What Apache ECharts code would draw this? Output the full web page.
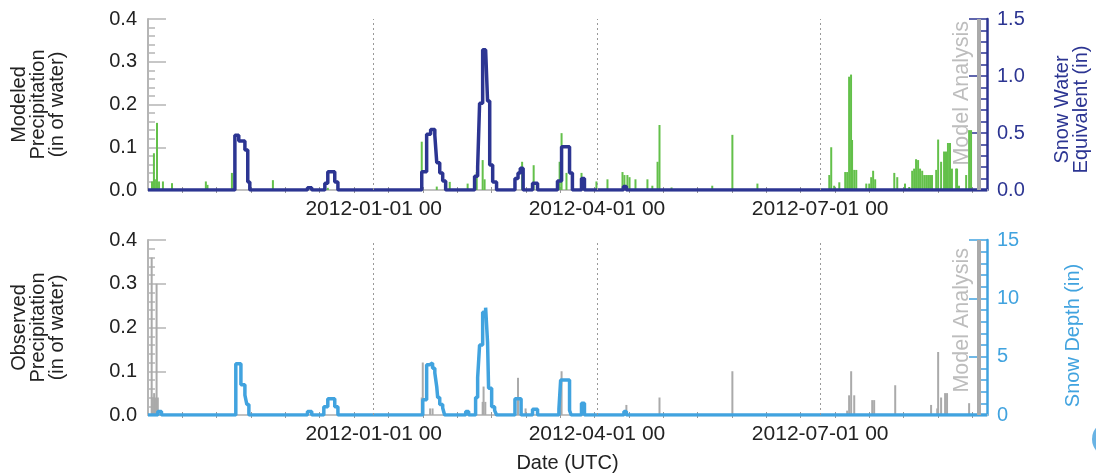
<!DOCTYPE html>
<html><head><meta charset="utf-8">
<script src="https://cdn.jsdelivr.net/npm/echarts@6/dist/echarts.min.js"></script>
<style>html,body{margin:0;padding:0;background:#fff}#c{width:1096px;height:476px}</style>
</head><body><div id="c"></div>
<script>
const xStart = '2011-10-01 00:00';
const xEnd = '2012-09-07 00:00';
const gridDates = ['2012-01-01 00:00', '2012-04-01 00:00', '2012-07-01 00:00'];
const minorTickDates = ['2011-10-15','2011-10-29','2011-11-12','2011-11-26','2011-12-10','2011-12-24',
  '2012-01-07','2012-01-21','2012-02-04','2012-02-18','2012-03-03','2012-03-17','2012-03-31',
  '2012-04-14','2012-04-28','2012-05-12','2012-05-26','2012-06-09','2012-06-23','2012-07-07',
  '2012-07-21','2012-08-04','2012-08-18','2012-09-01'];
const analysisDate = '2012-09-03 18:00';

// Modeled precipitation (in of water) - green bars
const modeledPrecip = [
  ['2011-10-02 15:00',0.02],['2011-10-03 10:00',0.086],['2011-10-03 20:00',0.025],['2011-10-04 16:00',0.157],
  ['2011-10-05 12:00',0.02],['2011-10-07 02:00',0.02],['2011-10-10 19:00',0.016],['2011-10-24 14:00',0.02],
  ['2011-10-25 06:00',0.012],['2011-11-04 05:00',0.04],['2011-11-20 22:00',0.023],['2011-12-13 07:00',0.005],
  ['2012-01-20 14:00',0.113],['2012-01-26 17:00',0.008],['2012-02-01 00:00',0.019],['2012-02-08 07:00',0.015],
  ['2012-02-12 00:00',0.042],['2012-02-14 10:00',0.07],['2012-02-15 05:00',0.025],['2012-03-01 12:00',0.066],
  ['2012-03-06 05:00',0.058],['2012-03-16 19:00',0.066],['2012-03-17 14:00',0.133],['2012-03-19 14:00',0.04],
  ['2012-03-25 17:00',0.04],['2012-03-31 19:00',0.02],['2012-04-05 07:00',0.025],['2012-04-11 10:00',0.042],
  ['2012-04-12 05:00',0.035],['2012-04-13 10:00',0.035],['2012-04-14 07:00',0.03],['2012-04-16 17:00',0.025],
  ['2012-04-21 14:00',0.025],['2012-04-23 14:00',0.01],['2012-04-25 17:00',0.066],['2012-04-26 12:00',0.152],
  ['2012-05-01 10:00',0.006],['2012-05-18 00:00',0.01],['2012-05-26 05:00',0.129],['2012-06-05 10:00',0.015],
  ['2012-07-04 17:00',0.035],['2012-07-05 12:00',0.1],['2012-07-06 17:00',0.01],['2012-07-08 19:00',0.018],
  ['2012-07-11 05:00',0.042],['2012-07-12 00:00',0.042],['2012-07-12 19:00',0.265],['2012-07-13 14:00',0.27],
  ['2012-07-14 00:00',0.117],['2012-07-14 21:00',0.047],['2012-07-15 17:00',0.047],['2012-07-19 19:00',0.015],
  ['2012-07-21 00:00',0.015],['2012-07-21 19:00',0.03],['2012-07-22 14:00',0.045],['2012-07-23 10:00',0.025],
  ['2012-07-31 05:00',0.04],['2012-08-01 10:00',0.03],['2012-08-04 14:00',0.015],['2012-08-06 07:00',0.007],
  ['2012-08-07 12:00',0.045],['2012-08-08 07:00',0.05],['2012-08-09 02:00',0.072],['2012-08-09 22:00',0.07],
  ['2012-08-10 17:00',0.05],['2012-08-11 14:00',0.045],['2012-08-12 10:00',0.035],['2012-08-13 05:00',0.035],
  ['2012-08-14 00:00',0.035],['2012-08-14 19:00',0.035],['2012-08-15 14:00',0.035],['2012-08-17 07:00',0.047],
  ['2012-08-18 02:00',0.118],['2012-08-19 07:00',0.066],['2012-08-20 12:00',0.09],['2012-08-21 07:00',0.09],
  ['2012-08-22 02:00',0.11],['2012-08-22 22:00',0.11],['2012-08-23 17:00',0.05],['2012-08-25 10:00',0.05],
  ['2012-08-25 19:00',0.05],['2012-08-26 14:00',0.01],['2012-08-29 12:00',0.035],['2012-08-30 17:00',0.14],
  ['2012-08-31 12:00',0.14]
];

// Snow water equivalent (in) - value holds until next point
const sweSteps = [
  ['2011-10-01 00:00',0],['2011-11-05 10:00',0.48],['2011-11-07 00:00',0.43],['2011-11-09 12:00',0.35],
  ['2011-11-10 16:00',0.07],['2011-11-11 12:00',0],['2011-12-05 00:00',0.02],['2011-12-06 18:00',0],
  ['2011-12-12 02:00',0.06],['2011-12-13 07:00',0.16],['2011-12-16 03:00',0.07],['2011-12-17 10:00',0],
  ['2012-01-20 14:00',0.16],['2012-01-22 14:00',0.49],['2012-01-24 05:00',0.53],['2012-01-25 22:00',0.48],
  ['2012-01-26 17:00',0.24],['2012-01-27 22:00',0.15],['2012-01-29 03:00',0.08],['2012-01-30 08:00',0],
  ['2012-02-11 03:00',0.12],['2012-02-12 09:00',0.2],['2012-02-13 04:00',0.76],['2012-02-14 10:00',1.23],
  ['2012-02-15 15:00',1.24],['2012-02-16 10:00',0.78],['2012-02-17 07:00',0.22],['2012-02-18 12:00',0.07],
  ['2012-02-20 02:00',0],['2012-02-27 14:00',0.1],['2012-02-28 20:00',0.15],['2012-02-29 18:00',0.19],
  ['2012-03-01 22:00',0],['2012-03-05 18:00',0.06],['2012-03-07 19:00',0],['2012-03-15 22:00',0.08],
  ['2012-03-17 14:00',0.38],['2012-03-20 20:00',0.15],['2012-03-22 00:00',0],['2012-03-25 17:00',0.1],
  ['2012-03-26 22:00',0],['2012-04-11 19:00',0.03],['2012-04-13 00:00',0],['2012-09-07 00:00',0]
];

// Observed precipitation (in of water) - gray bars
const observedPrecip = [
  ['2011-10-02 12:00',0.36],['2011-10-03 00:00',0.04],['2011-10-03 12:00',0.05],['2011-10-04 00:00',0.04],
  ['2011-10-04 12:00',0.30],['2011-10-05 00:00',0.04],['2012-01-20 14:00',0.04],['2012-01-21 00:00',0.12],
  ['2012-01-24 00:00',0.015],['2012-01-25 00:00',0.015],['2012-02-14 10:00',0.03],['2012-02-14 19:00',0.065],
  ['2012-02-15 12:00',0.03],['2012-02-28 20:00',0.085],['2012-03-02 22:00',0.015],['2012-03-17 00:00',0.03],
  ['2012-03-17 14:00',0.1],['2012-04-13 00:00',0.023],['2012-04-26 12:00',0.04],['2012-05-26 05:00',0.1],
  ['2012-07-12 00:00',0.01],['2012-07-12 19:00',0.045],['2012-07-13 15:00',0.1],['2012-07-14 21:00',0.045],
  ['2012-07-22 05:00',0.034],['2012-07-23 00:00',0.034],['2012-07-31 14:00',0.068],['2012-08-15 05:00',0.023],
  ['2012-08-17 17:00',0.015],['2012-08-18 02:00',0.144],['2012-08-19 07:00',0.04],['2012-08-20 22:00',0.05],
  ['2012-08-21 17:00',0.05],['2012-08-30 17:00',0.027]
];

// Snow depth (in) - value holds until next point
const snowDepthSteps = [
  ['2011-10-01 00:00',0],['2011-10-05 00:00',0.3],['2011-10-06 12:00',0],['2011-11-05 19:00',4.4],
  ['2011-11-07 21:00',2.6],['2011-11-09 12:00',1.7],['2011-11-10 07:00',0.9],['2011-11-11 03:00',0],
  ['2011-12-05 00:00',0.3],['2011-12-06 18:00',0],['2011-12-11 16:00',0.7],['2011-12-13 07:00',1.4],
  ['2011-12-16 03:00',0.7],['2011-12-17 10:00',0],['2012-01-21 00:00',1.3],['2012-01-22 14:00',4.3],
  ['2012-01-23 19:00',4.45],['2012-01-25 00:00',4.0],['2012-01-25 22:00',3.6],['2012-01-26 17:00',2.4],
  ['2012-01-27 02:00',1.5],['2012-01-27 22:00',0.9],['2012-01-29 03:00',0.6],['2012-01-29 22:00',0],
  ['2012-02-07 12:00',0.3],['2012-02-08 17:00',0],['2012-02-11 13:00',1.5],['2012-02-12 09:00',3.2],
  ['2012-02-13 04:00',6.0],['2012-02-14 10:00',8.8],['2012-02-15 15:00',9.2],['2012-02-16 10:00',6.2],
  ['2012-02-16 20:00',2.3],['2012-02-18 02:00',0.7],['2012-02-19 07:00',0.4],['2012-02-20 02:00',0],
  ['2012-02-27 14:00',1.4],['2012-03-01 02:00',0],['2012-03-05 18:00',0.5],['2012-03-07 19:00',0],
  ['2012-03-16 12:00',0.5],['2012-03-17 05:00',3.0],['2012-03-20 20:00',0.4],['2012-03-21 12:00',0],
  ['2012-03-25 17:00',1.0],['2012-03-26 22:00',0],['2012-04-12 00:00',0.3],['2012-04-13 00:00',0],
  ['2012-09-07 00:00',0]
];

const FONT = '"Liberation Sans", Arial, sans-serif';
const TXT = '#222';
const SWE_C = '#2c3592';
const DEPTH_C = '#41a3df';
const P = s => echarts.time.parse(s).getTime();
const toXY = arr => arr.map(([d, v]) => [P(d), v]);
const pad = n => (n < 10 ? '0' : '') + n;
const fmtDate = v => { const d = new Date(v); return d.getFullYear() + '-' + pad(d.getMonth()+1) + '-' + pad(d.getDate()) + ' ' + pad(d.getHours()); };

function xAxesFor(gi, name) {
  return [
    { type:'value', gridIndex:gi, min:P(xStart), max:P(xEnd), position:'bottom', scale:true,
      axisLine:{show:false},
      axisTick:{show:true, inside:true, length:3, customValues:minorTickDates.map(P), lineStyle:{color:'#999'}},
      axisLabel:{customValues:gridDates.map(P), formatter:fmtDate, fontSize:21, color:TXT, margin:9, fontFamily:FONT, hideOverlap:false, showMinLabel:true, showMaxLabel:true},
      splitLine:{show:false},
      name:name, nameLocation:'middle', nameGap:38,
      nameTextStyle:{fontSize:20, color:TXT, fontFamily:FONT} },
    { type:'value', gridIndex:gi, min:P(xStart), max:P(xEnd), position:'top', scale:true,
      axisLine:{show:true, lineStyle:{color:'#c2c2c2', width:2}},
      axisTick:{show:true, inside:true, length:3, customValues:minorTickDates.map(P), lineStyle:{color:'#999'}},
      axisLabel:{show:false}, splitLine:{show:false} }
  ];
}
function leftY(gi, name) {
  return { type:'value', gridIndex:gi, min:0, max:0.4, interval:0.1, position:'left',
    axisLine:{show:true, lineStyle:{color:'#b5b5b5', width:2}},
    axisTick:{show:true, inside:true, length:18, lineStyle:{color:'#b5b5b5', width:1.5}},
    minorTick:{show:true, splitNumber:5, length:7, lineStyle:{color:'#b5b5b5', width:1.5}},
    axisLabel:{formatter:v => v.toFixed(1), fontSize:20, color:TXT, margin:11, fontFamily:FONT},
    splitLine:{show:false},
    name:name, nameLocation:'middle', nameRotate:90, nameGap:81,
    nameTextStyle:{fontSize:20, lineHeight:19, color:TXT, fontFamily:FONT} };
}
function rightY(gi, max, interval, color, dec, name, gap, shift) {
  return { type:'value', gridIndex:gi, min:0, max:max, interval:interval, position:'right',
    axisLine:{show:true, lineStyle:{color:color, width:2.5}},
    axisTick:{show:true, inside:true, length:18, lineStyle:{color:color, width:1.5}},
    minorTick:{show:true, splitNumber:5, length:7, lineStyle:{color:color, width:1.5}},
    axisLabel:{formatter:v => v.toFixed(dec), fontSize:20, color:color, margin:10, fontFamily:FONT},
    splitLine:{show:false},
    name:name, nameLocation:'middle', nameRotate:90, nameGap:gap,
    nameTextStyle:{fontSize:20, lineHeight:19, color:color, fontFamily:FONT, padding:[0, shift, 0, 0]} };
}
function markLines() {
  return { silent:true, symbol:'none', label:{show:false}, animation:false,
    data: gridDates.map(d => ({xAxis:P(d), lineStyle:{type:[2,3], color:'#999', width:1}}))
      .concat([{xAxis:P(analysisDate), lineStyle:{type:'solid', color:'#aaaaaa', width:4}}]) };
}

const chart = echarts.init(document.getElementById('c'), null, {renderer:'canvas'});
chart.setOption({
  animation:false,
  backgroundColor:'#fff',
  grid:[
    {left:148, right:109, top:19, height:171, outerBoundsMode:'none'},
    {left:148, right:109, top:240, height:175, outerBoundsMode:'none'}
  ],
  xAxis: xAxesFor(0, '').concat(xAxesFor(1, 'Date (UTC)')),
  yAxis: [
    leftY(0, 'Modeled\nPrecipitation\n(in of water)'),
    rightY(0, 1.5, 0.5, SWE_C, 1, 'Snow Water\nEquivalent (in)', 66, 10),
    leftY(1, 'Observed\nPrecipitation\n(in of water)'),
    rightY(1, 15, 5, DEPTH_C, 0, 'Snow Depth (in)', 77, 16)
  ],
  series: [
    { type:'bar', xAxisIndex:0, yAxisIndex:0, data:toXY(modeledPrecip), barWidth:2, barGap:'-100%',
      itemStyle:{color:'#63c04a'}, z:2, markLine:markLines() },
    { type:'line', xAxisIndex:0, yAxisIndex:1, data:toXY(sweSteps), step:'end', showSymbol:false,
      lineStyle:{color:SWE_C, width:3.5}, itemStyle:{color:SWE_C}, z:3 },
    { type:'bar', xAxisIndex:2, yAxisIndex:2, data:toXY(observedPrecip), barWidth:2, barGap:'-100%',
      itemStyle:{color:'#aaaaaa'}, z:2, markLine:markLines() },
    { type:'line', xAxisIndex:2, yAxisIndex:3, data:toXY(snowDepthSteps), step:'end', showSymbol:false,
      lineStyle:{color:DEPTH_C, width:3.5}, itemStyle:{color:DEPTH_C}, z:3 }
  ]
});

const ax = chart.convertToPixel({xAxisIndex:0}, P(analysisDate));
const top0 = chart.convertToPixel({yAxisIndex:0}, 0.4);
const top1 = chart.convertToPixel({yAxisIndex:2}, 0.4);
const labelStyle = {text:'Model Analysis', fill:'#bdbdbd', font:'21.5px ' + FONT, align:'right', verticalAlign:'middle'};
chart.setOption({
  graphic: [
    {type:'text', x:ax - 17, y:top0 + 2, rotation:Math.PI/2, style:labelStyle, z:10},
    {type:'text', x:ax - 17, y:top1 + 8, rotation:Math.PI/2, style:labelStyle, z:10},
    {type:'circle', shape:{cx:1110, cy:439, r:18}, style:{fill:'#69b3e4'}, z:10}
  ]
});
</script>
</body></html>
